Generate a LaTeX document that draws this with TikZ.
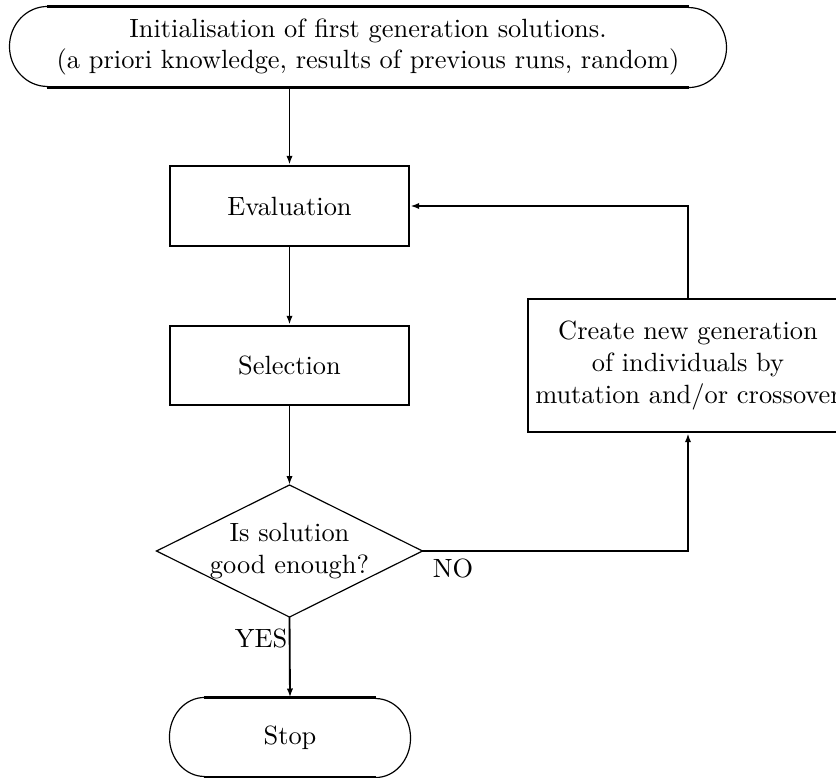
\documentclass[tikz,border=0pt]{standalone}
\usetikzlibrary{calc,arrows.meta}
\begin{document}
\begin{tikzpicture}[x=0.379pt,y=-0.379pt,
  thickline/.style={line width=0.95pt},
  thinline/.style={line width=0.45pt},
  arr/.style={line width=0.7pt,-{Latex[length=3.4pt,width=2.4pt]}},
  lbl/.style={inner sep=0pt,align=center},
  boxnode/.style={draw,thickline,inner sep=0pt,align=center}]
\useasboundingbox (0,0) rectangle (836,778);
\clip (0,0) rectangle (836,778);
% start terminator
\node[lbl,minimum width=271.36pt,minimum height=30.32pt] (start) at (368,47)
  {Initialisation of first generation solutions.\\(a priori knowledge, results of previous runs, random)};
\draw[thickline] ($(start.north west)+(38,0)$) -- ($(start.north east)+(-38,0)$);
\draw[thickline] ($(start.south west)+(38,0)$) -- ($(start.south east)+(-38,0)$);
\draw[thinline] ($(start.north west)+(38,0)$) arc[start angle=90,end angle=270,x radius=14.4pt,y radius=15.16pt];
\draw[thinline] ($(start.south east)+(-38,0)$) arc[start angle=-90,end angle=90,x radius=14.4pt,y radius=15.16pt];
% boxes
\node[boxnode,minimum width=90.58pt,minimum height=30.32pt] (eval) at (289.5,206) {Evaluation};
\node[boxnode,minimum width=90.58pt,minimum height=29.94pt] (sel) at (289.5,365.5) {Selection};
\node[boxnode,minimum width=121.3pt,minimum height=50.4pt] (create) at (688,365.5)
  {Create new generation\\of individuals by\\mutation and/or crossover};
% decision
\node[lbl,minimum width=100.4pt,minimum height=49.65pt] (dec) at (289.5,551) {Is solution\\good enough?};
\draw[thinline] (dec.north) -- (dec.east) -- (dec.south) -- (dec.west) -- cycle;
% stop terminator
\node[lbl,minimum width=90.96pt,minimum height=29.94pt] (stop) at (290,737.5) {Stop};
\draw[thickline] ($(stop.north west)+(35,0)$) -- ($(stop.north east)+(-35,0)$);
\draw[thickline] ($(stop.south west)+(35,0)$) -- ($(stop.south east)+(-35,0)$);
\draw[thinline] ($(stop.north west)+(35,0)$) arc[start angle=90,end angle=270,x radius=13.27pt,y radius=14.97pt];
\draw[thinline] ($(stop.south east)+(-35,0)$) arc[start angle=-90,end angle=90,x radius=13.27pt,y radius=14.97pt];
% labels
\node[lbl] (no) at (453,568) {NO};
\node[lbl] (yes) at (261,638) {YES};
% connectors
\draw[arr] (eval.north |- start.south) -- (eval.north);
\draw[arr] (eval.south) -- (sel.north);
\draw[arr] (sel.south) -- (dec.north);
\draw[arr] (dec.south) -- (stop.north);
\draw[arr] (dec.east) -- (dec.east -| create.south) -- (create.south);
\draw[arr] (create.north) |- (eval.east);
\end{tikzpicture}
\end{document}
